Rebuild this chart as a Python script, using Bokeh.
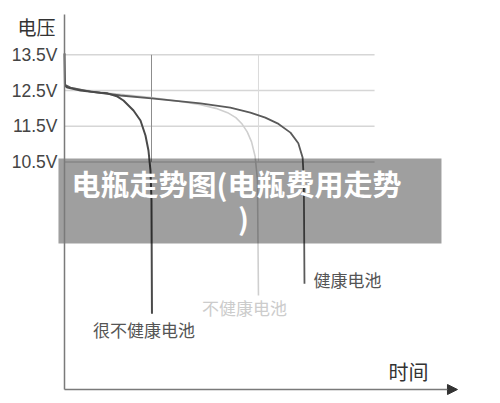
from bokeh.plotting import figure
from bokeh.models import LinearAxis, FixedTicker, Arrow, NormalHead
from bokeh.core.properties import value
from bokeh.embed import file_html
from bokeh.resources import INLINE

# voltage ticks on the y axis
volt_ticks = [10.5, 11.5, 12.5, 13.5]
volt_labels = ["10.5V", "11.5V", "12.5V", "13.5V"]

# discharge curves: time (0-100, arbitrary) vs voltage
bad_t = [0, 0.13, 0.76, 4.07, 9.16, 10.94, 13.49, 15.01, 17.56, 19.34, 20.61, 21.37, 21.88, 22.14, 22.26]
bad_v = [13.54, 12.64, 12.58, 12.50, 12.44, 12.42, 12.33, 12.22, 11.94, 11.66, 11.24, 10.82, 10.26, 9.42, 6.25]

weak_t = [0, 4.07, 11.7, 22.14, 29.5, 34.6, 38.5, 41.5, 43.6, 45.2, 46.5, 47.6, 48.5, 49.1, 49.36]
weak_v = [12.61, 12.53, 12.42, 12.30, 12.19, 12.10, 12.00, 11.88, 11.74, 11.56, 11.34, 11.06, 10.66, 10.0, 6.76]

good_t = [0, 1.53, 6.62, 14.25, 22.14, 34.6, 42.2, 47.3, 51.1, 54.2, 57.5, 59.5, 60.6, 60.9, 61.07]
good_v = [12.67, 12.58, 12.47, 12.36, 12.28, 12.14, 12.02, 11.88, 11.74, 11.58, 11.32, 11.02, 10.62, 9.98, 7.09]

# where each weak battery gives out (vertical guide lines)
guide_t = [22.14, 49.36]

title_line1 = "电瓶走势图(电瓶费用走势"
title_line2 = ")"

cjk = value("Noto Sans CJK SC")

p = figure(width=492, height=395, x_range=(-16.28, 108.91), y_range=(3.957, 15.021),
           x_axis_location=None, y_axis_location=None, toolbar_location=None,
           output_backend="svg", min_border=0, outline_line_color=None)
p.grid.visible = False

# horizontal grid lines
p.segment(x0=[0] * len(volt_ticks), y0=volt_ticks, x1=[78.9] * len(volt_ticks), y1=volt_ticks,
          line_color="#d6d6d6", line_width=1.5)
# vertical guides
p.segment(x0=[guide_t[0]], y0=[13.5], x1=[guide_t[0]], y1=[10.5], line_color="#8c8c8c", line_width=1)
p.segment(x0=[guide_t[1]], y0=[13.5], x1=[guide_t[1]], y1=[10.5], line_color="#dadada", line_width=1)

yaxis = LinearAxis(fixed_location=0, bounds=(4.125, 14.63), ticker=FixedTicker(ticks=volt_ticks))
yaxis.major_label_overrides = dict(zip(volt_ticks, volt_labels))
yaxis.major_tick_line_color = None
yaxis.minor_tick_line_color = None
yaxis.major_tick_out = 0
yaxis.major_tick_in = 0
yaxis.axis_line_color = "#7a7a7a"
yaxis.axis_line_width = 1.5
yaxis.major_label_standoff = 7
yaxis.major_label_text_font = "Liberation Sans"
yaxis.major_label_text_font_size = "17.5px"
yaxis.major_label_text_color = "#444444"
p.add_layout(yaxis, "left")

xaxis = LinearAxis(fixed_location=4.125, bounds=(0, 98), ticker=FixedTicker(ticks=[]))
xaxis.major_tick_line_color = None
xaxis.minor_tick_line_color = None
xaxis.axis_line_color = "#7a7a7a"
xaxis.axis_line_width = 1.5
p.add_layout(xaxis, "below")
p.add_layout(Arrow(end=NormalHead(size=10, fill_color="#333333", line_color="#333333"),
                   x_start=96, y_start=4.125, x_end=100, y_end=4.125, line_color="#7a7a7a"))

p.line(weak_t, weak_v, line_color="#cfcfcf", line_width=1.6)
p.line(good_t, good_v, line_color="#5a5a5a", line_width=1.8)
p.line(bad_t, bad_v, line_color="#4a4a4a", line_width=2)

p.text(x=[-7.12], y=[14.293], text=["电压"], text_font=cjk, text_font_size="19px",
       text_color="#333333", text_align="center", text_baseline="middle")
p.text(x=[87.53], y=[4.629], text=["时间"], text_font=cjk, text_font_size="20px",
       text_color="#333333", text_align="center", text_baseline="middle")
p.text(x=[20.23], y=[5.805], text=["很不健康电池"], text_font=cjk, text_font_size="17px",
       text_color="#555555", text_align="center", text_baseline="middle")
p.text(x=[45.8], y=[6.422], text=["不健康电池"], text_font=cjk, text_font_size="17px",
       text_color="#cccccc", text_align="center", text_baseline="middle")
p.text(x=[63.36], y=[7.206], text=["健康电池"], text_font=cjk, text_font_size="17px",
       text_color="#555555", text_align="left", text_baseline="middle")

# grey banner with the page title over the chart
p.quad(left=[-1.53], right=[95.93], top=[10.595], bottom=[8.214],
       fill_color="black", fill_alpha=0.375, line_color=None)
p.text(x=[43.77], y=[9.923], text=[title_line1], text_font=cjk,
       text_font_size="29px", text_font_style="bold", text_color="white",
       text_align="center", text_baseline="middle")
p.text(x=[45.55], y=[8.943], text=[title_line2], text_font=cjk,
       text_font_size="29px", text_font_style="bold", text_color="white",
       text_align="center", text_baseline="middle")

open("out.html", "w").write(file_html(p, INLINE))
